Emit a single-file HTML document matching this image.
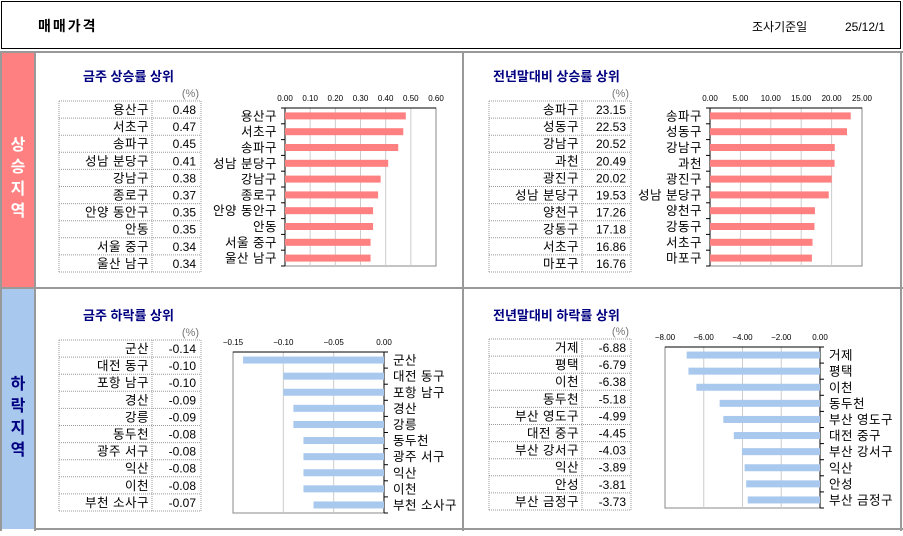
<!DOCTYPE html>
<html><head><meta charset="utf-8">
<style>
body{margin:0;background:#fff;}
svg text{font-family:"Liberation Sans","Noto Sans CJK KR","NanumGothic",sans-serif;}
</style></head>
<body>
<svg id="root" width="903" height="531" xmlns="http://www.w3.org/2000/svg">
<rect x="0" y="0" width="903" height="531" fill="#fff"/>
<rect x="1.5" y="1.5" width="899" height="47" fill="#fff" stroke="#000" stroke-width="1"/>
<text x="38" y="31" font-size="14" font-weight="bold" letter-spacing="2">매매가격</text>
<text x="752" y="31" font-size="12">조사기준일</text>
<text x="845" y="31" font-size="12">25/12/1</text>
<rect x="2" y="53" width="32" height="235" fill="#ff8080"/>
<rect x="2" y="289" width="32" height="240" fill="#a8c8ee"/>
<g font-size="16" font-weight="bold" text-anchor="middle">
<text x="18" y="150" fill="#fff">상</text>
<text x="18" y="172" fill="#fff">승</text>
<text x="18" y="194" fill="#fff">지</text>
<text x="18" y="216" fill="#fff">역</text>
<text x="18" y="389" fill="#000080">하</text>
<text x="18" y="411" fill="#000080">락</text>
<text x="18" y="433" fill="#000080">지</text>
<text x="18" y="455" fill="#000080">역</text>
</g>
<g stroke="#999" stroke-width="2" fill="none">
<line x1="0" y1="52" x2="903" y2="52"/>
<line x1="0" y1="288" x2="903" y2="288"/>
<line x1="35" y1="529" x2="903" y2="529"/>
<line x1="35" y1="52" x2="35" y2="531"/>
<line x1="463" y1="52" x2="463" y2="531"/>
<line x1="901" y1="52" x2="901" y2="531"/>
<line x1="1" y1="52" x2="1" y2="531"/>
</g>
<g id="panels"></g>
</svg>
<script>
const upWeekNames=["용산구","서초구","송파구","성남 분당구","강남구","종로구","안양 동안구","안동","서울 중구","울산 남구"];
const upWeekVals=[0.48,0.47,0.45,0.41,0.38,0.37,0.35,0.35,0.34,0.34];
const upWeekTicks=[0,0.1,0.2,0.3,0.4,0.5,0.6];
const upYearNames=["송파구","성동구","강남구","과천","광진구","성남 분당구","양천구","강동구","서초구","마포구"];
const upYearVals=[23.15,22.53,20.52,20.49,20.02,19.53,17.26,17.18,16.86,16.76];
const upYearTicks=[0,5,10,15,20,25];
const downWeekNames=["군산","대전 동구","포항 남구","경산","강릉","동두천","광주 서구","익산","이천","부천 소사구"];
const downWeekVals=[-0.14,-0.10,-0.10,-0.09,-0.09,-0.08,-0.08,-0.08,-0.08,-0.07];
const downWeekTicks=[-0.15,-0.10,-0.05,0];
const downYearNames=["거제","평택","이천","동두천","부산 영도구","대전 중구","부산 강서구","익산","안성","부산 금정구"];
const downYearVals=[-6.88,-6.79,-6.38,-5.18,-4.99,-4.45,-4.03,-3.89,-3.81,-3.73];
const downYearTicks=[-8,-6,-4,-2,0];

const NS="http://www.w3.org/2000/svg";
const host=document.getElementById('panels');
function mk(tag,attrs,parent,text){const e=document.createElementNS(NS,tag);for(const k in attrs)e.setAttribute(k,attrs[k]);if(text!==undefined)e.textContent=text;(parent||host).appendChild(e);return e;}

function panel(p){
  const g=mk('g',{});
  
  
  const t=mk('text',{x:p.tx,y:p.ty,'font-size':13,'font-weight':'bold',fill:'#000080'},g,p.title);
  
  
  const u=mk('text',{x:p.tblX+140,y:p.tblY-4,'font-size':11,fill:'#777','text-anchor':'end'},g,'(%)');
  
  
  const rh=17.1, n=p.names.length, W=142, split=93;
  const tb=mk('g',{},g);
  
  
  const ds={stroke:'#999','stroke-width':1,'stroke-dasharray':'1,1',fill:'none'};
  for(let i=0;i<=n;i++){const y=p.tblY+i*rh;mk('line',Object.assign({x1:p.tblX,x2:p.tblX+W,y1:y,y2:y},ds),tb);}
  [0,split,W].forEach(x=>mk('line',Object.assign({x1:p.tblX+x,x2:p.tblX+x,y1:p.tblY,y2:p.tblY+n*rh},ds),tb));
  for(let i=0;i<n;i++){
    const y=p.tblY+i*rh+13;
    const a=mk('text',{x:p.tblX+split-3,y:y,'font-size':12.5,'letter-spacing':0.5,'text-anchor':'end'},tb,p.names[i]);
    
    
    const b=mk('text',{x:p.tblX+W-5,y:y,'font-size':12,'text-anchor':'end'},tb,p.vals[i].toFixed(2));
    
    
  }
  const c=p.chart, ticks=p.ticks, dmin=ticks[0], dmax=ticks[ticks.length-1];
  const xs=v=>c.x+(v-dmin)/(dmax-dmin)*c.w;
  const cg=mk('g',{},g);
  
  
  mk('rect',{x:c.x,y:c.y,width:c.w,height:c.h,fill:'#fff',stroke:'#888','stroke-width':1},cg);
  ticks.forEach(tv=>{
    const x=xs(tv);
    if(tv!==dmin&&tv!==dmax)mk('line',{x1:x,x2:x,y1:c.y,y2:c.y+c.h,stroke:'#ccc','stroke-width':1},cg);
    const tl=mk('text',{x:x,y:c.y-7,'font-size':8,'text-anchor':'middle',fill:'#000'},cg,(tv<0?'−'+Math.abs(tv).toFixed(2):tv.toFixed(2)));
    
    
  });
  mk('line',{x1:c.x,x2:c.x+c.w,y1:c.y,y2:c.y,stroke:'#000','stroke-width':1},cg);
  const ax=p.neg?c.x+c.w:c.x;
  mk('line',{x1:ax,x2:ax,y1:c.y,y2:c.y+c.h,stroke:'#000','stroke-width':1},cg);
  const band=c.h/n;
  for(let i=0;i<=n;i++){const y=c.y+i*band;mk('line',{x1:ax,x2:ax+(p.neg?4:-4),y1:y,y2:y,stroke:'#000'},cg);}
  for(let i=0;i<n;i++){
    const v=p.vals[i], x0=xs(0), x1=xs(v);
    const cy=c.y+band*(i+0.5);
    const r=mk('rect',{x:Math.min(x0,x1),y:cy-3.5,width:Math.abs(x1-x0),height:7,fill:p.color},cg);
    
    
    const l=mk('text',{x:p.neg?ax+9:ax-8,y:cy+4.5,'font-size':12.5,'letter-spacing':0.5,'text-anchor':p.neg?'start':'end'},cg,p.names[i]);
    
    
  }
}
panel({id:'weekly-rise',title:'금주 상승률 상위',tx:83,ty:81,tblX:59,tblY:101,names:upWeekNames,vals:upWeekVals,ticks:upWeekTicks,chart:{x:285,y:108,w:151,h:158},neg:false,color:'#ff8080'});
panel({id:'yearly-rise',title:'전년말대비 상승률 상위',tx:493,ty:81,tblX:489,tblY:101,names:upYearNames,vals:upYearVals,ticks:upYearTicks,chart:{x:710,y:108,w:152,h:158},neg:false,color:'#ff8080'});
panel({id:'weekly-fall',title:'금주 하락률 상위',tx:83,ty:320,tblX:59,tblY:340,names:downWeekNames,vals:downWeekVals,ticks:downWeekTicks,chart:{x:233,y:352,w:151,h:161},neg:true,color:'#a8c8ee'});
panel({id:'yearly-fall',title:'전년말대비 하락률 상위',tx:493,ty:320,tblX:489,tblY:339,names:downYearNames,vals:downYearVals,ticks:downYearTicks,chart:{x:665,y:347,w:155,h:161},neg:true,color:'#a8c8ee'});
</script>
</body></html>
